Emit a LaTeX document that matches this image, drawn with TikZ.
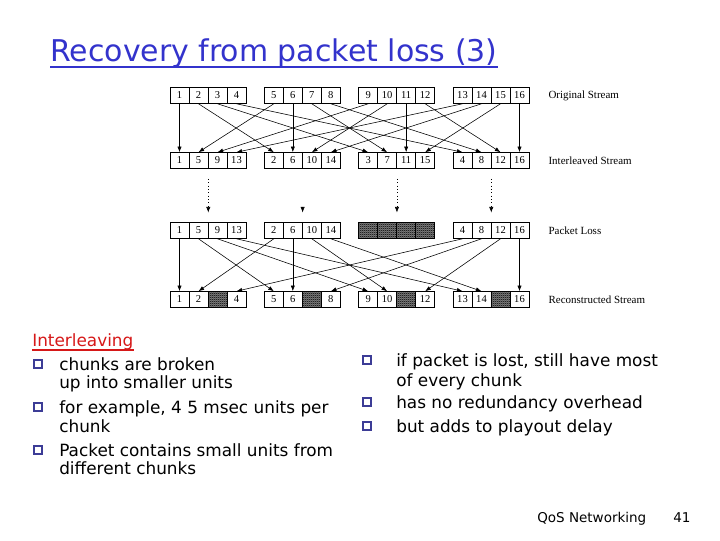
\documentclass[tikz,border=0pt]{standalone}
\usepackage{fontspec}
\setmainfont{DejaVu Sans}
\newfontfamily\figfont{Liberation Serif}
\usetikzlibrary{arrows.meta,positioning,calc,patterns}
\definecolor{headblue}{RGB}{51,51,204}
\definecolor{headred}{RGB}{214,24,24}
\definecolor{boxblue}{RGB}{60,60,150}
\pgfdeclarepatternformonly{finecheck}{\pgfpointorigin}{\pgfqpoint{1.5pt}{1.5pt}}{\pgfqpoint{1.5pt}{1.5pt}}{
  \pgfpathrectangle{\pgfpointorigin}{\pgfqpoint{0.75pt}{0.75pt}}
  \pgfpathrectangle{\pgfqpoint{0.75pt}{0.75pt}}{\pgfqpoint{0.75pt}{0.75pt}}
  \pgfusepath{fill}}
\tikzset{
  cell/.style={draw, thin, minimum width=0.475cm, minimum height=0.4cm, inner sep=0pt,
               font=\figfont\fontsize{7.5}{8}\selectfont},
  lost/.style={cell, preaction={fill=black!50}, pattern=finecheck},
  tag/.style={font=\figfont\fontsize{7.8}{9}\selectfont, inner sep=0pt},
  mix/.style={-{Latex[length=4pt,width=3pt]}, thin},
  gap/.style={dotted, thin, -{Latex[length=4pt,width=3pt]}, shorten <=0.25cm, shorten >=0.24cm},
  item/.style={font=\fontsize{12}{13.5}\selectfont, anchor=base west, inner sep=0pt},
  tick/.style={draw=boxblue, thick, fill=white, minimum size=0.2cm, inner sep=0pt},
  foot/.style={font=\fontsize{9.6}{11}\selectfont, anchor=base west, inner sep=0pt},
}
\begin{document}
\begin{tikzpicture}[x=0.025cm,y=-0.025cm]
  \useasboundingbox (0,0) rectangle (720,540);
  \node[font=\fontsize{21.3}{25}\selectfont, text=headblue, anchor=base west, inner sep=0pt] (title) at (50,61) {Recovery from packet loss (3)};
  \draw[headblue, line width=1.2pt] ($(title.base west)+(0,6)$) -- ($(title.base east)+(0,6)$);
  \foreach \g in {0,...,3} \foreach \p in {0,...,3} {
    \pgfmathtruncatemacro\ko{4*\g+\p+1}
    \pgfmathtruncatemacro\ki{\g+4*\p+1}
    \pgfmathsetmacro\cx{179.5+94.33*\g+19*\p}
    \node[cell] (o\ko) at (\cx,95.5) {\ko};
    \node[cell] (i\ki) at (\cx,160.5) {\ki};
    \ifnum\g=2 \node[lost] (l\ki) at (\cx,230.5) {}; \else \node[cell] (l\ki) at (\cx,230.5) {\ki}; \fi
    \ifnum\p=2 \node[lost] (r\ko) at (\cx,299.5) {}; \else \node[cell] (r\ko) at (\cx,299.5) {\ko}; \fi
  }
  \foreach \k in {1,...,16} \draw[mix] (o\k.south) -- (i\k.north);
  \foreach \k in {1,2,4,5,6,8,9,10,12,13,14,16} \draw[mix] (l\k.south) -- (r\k.north);
  \foreach \k in {5,7,8} \draw[gap] (i\k.south east) -- (l\k.north east);
  \draw[gap, shorten <=0.95cm] (i6.south east) -- (l6.north east);
  \node[tag, anchor=west, right=0.475cm of o16] (orig) {Original Stream};
  \node[tag, anchor=west, right=0.475cm of i16] (inter) {Interleaved Stream};
  \node[tag, anchor=west, right=0.475cm of l16] (loss) {Packet Loss};
  \node[tag, anchor=west, right=0.475cm of r16] (recon) {Reconstructed Stream};
  \node[item, text=headred] (head) at (32,346) {Interleaving};
  \draw[headred, line width=0.9pt] ($(head.base west)+(0,4)$) -- ($(head.base east)+(0,4)$);
  \node[tick] (t1) at (38,364) {};
  \node[item] (c1a) at (59,370) {chunks are broken};
  \node[item] (c1b) at (59,388) {up into smaller units};
  \node[tick] (t2) at (38,407) {};
  \node[item] (c2a) at (59,413) {for example, 4 5 msec units per};
  \node[item] (c2b) at (59,432) {chunk};
  \node[tick] (t3) at (38,450) {};
  \node[item] (c3a) at (59,456) {Packet contains small units from};
  \node[item] (c3b) at (59,474) {different chunks};
  \node[tick] (t4) at (367,360) {};
  \node[item] (d1a) at (396,366) {if packet is lost, still have most};
  \node[item] (d1b) at (396,386) {of every chunk};
  \node[tick] (t5) at (367,402) {};
  \node[item] (d2) at (396,408) {has no redundancy overhead};
  \node[tick] (t6) at (367,426) {};
  \node[item] (d3) at (396,432) {but adds to playout delay};
  \node[foot] (course) at (537,522) {QoS Networking};
  \node[foot] (page) at (673,522) {41};
\end{tikzpicture}
\end{document}
